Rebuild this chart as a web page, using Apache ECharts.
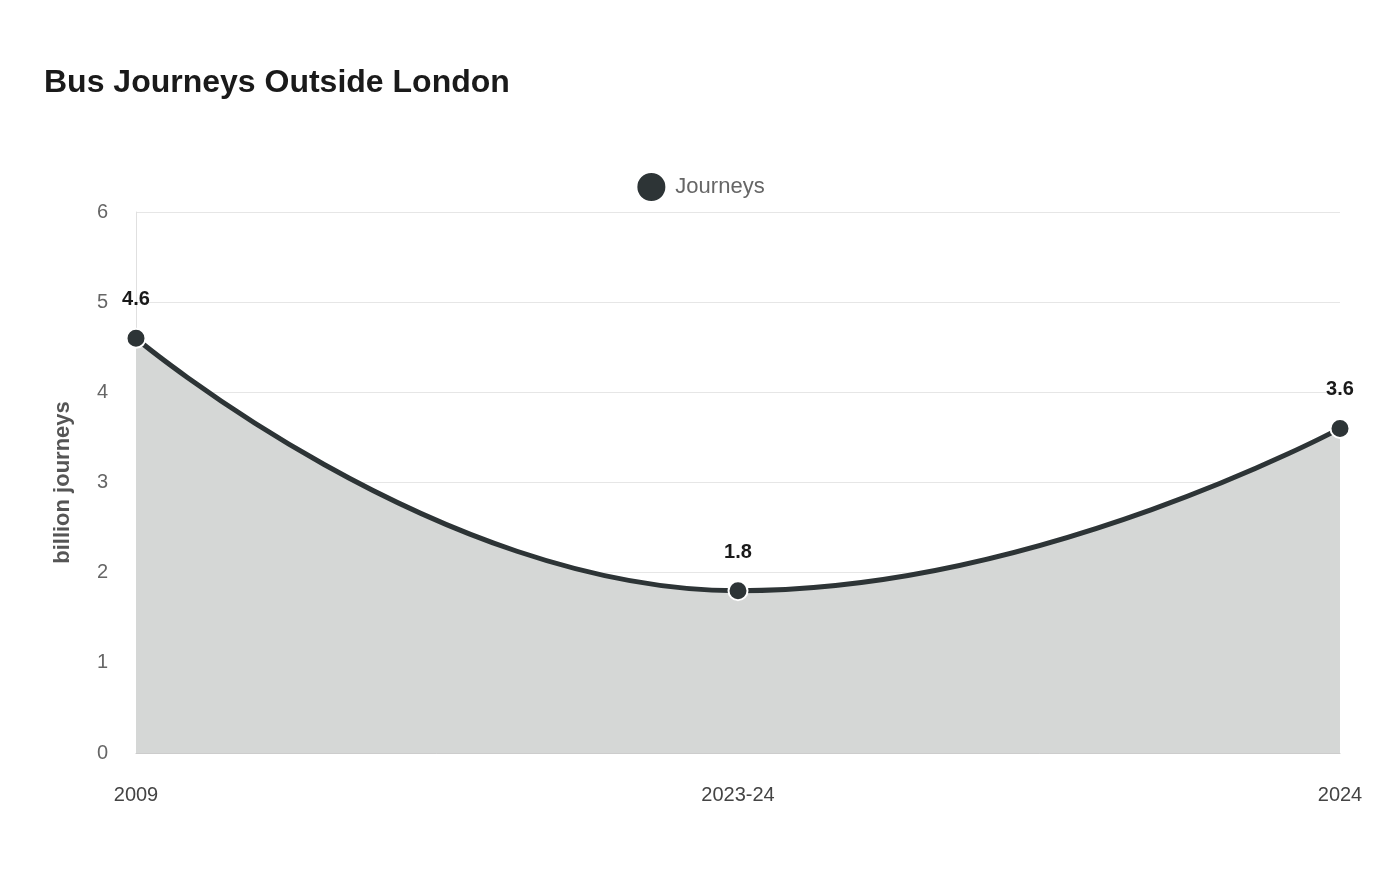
<!DOCTYPE html>
<html><head><meta charset="utf-8">
<script src="https://cdn.jsdelivr.net/npm/echarts@6/dist/echarts.min.js"></script>
<style>html,body{margin:0;padding:0;background:#fff}#c{width:1400px;height:880px}</style>
</head><body><div id="c"></div>
<script>
const categories = ["2009", "2023-24", "2024"];
const journeys = [4.6, 1.8, 3.6];
const yTicks = [0, 1, 2, 3, 4, 5, 6];

const chart = echarts.init(document.getElementById('c'));
chart.setOption({
  animation: false,
  textStyle: { fontFamily: 'Liberation Sans, Arial, sans-serif' },
  title: { text: 'Bus Journeys Outside London', left: 39, top: 62,
    textStyle: { fontSize: 32, fontWeight: 'bold', color: '#1a1a1a' } },
  legend: { top: 166, left: 'center', itemWidth: 30, itemHeight: 30, icon: 'circle',
    textStyle: { fontSize: 22, color: '#666', padding: [0, 0, 0, 4] }, data: ['Journeys'] },
  grid: { left: 136, right: 60, top: 212, bottom: 127 },
  xAxis: { type: 'category', data: categories, boundaryGap: false,
    axisLine: { lineStyle: { color: '#ccc' } }, axisTick: { show: false },
    axisLabel: { fontSize: 20, color: '#444', margin: 32 } },
  yAxis: { type: 'value', min: yTicks[0], max: yTicks[yTicks.length-1], interval: 1,
    name: 'billion journeys', nameLocation: 'middle', nameGap: 62,
    nameTextStyle: { fontSize: 22, fontWeight: 'bold', color: '#555' },
    axisLine: { show: true, lineStyle: { color: '#e0e0e0' } }, axisTick: { show: false },
    axisLabel: { fontSize: 20, color: '#666', margin: 28 },
    splitLine: { lineStyle: { color: '#e6e6e6' } } },
  series: [{
    name: 'Journeys', type: 'line', data: journeys, smooth: 0.5, smoothMonotone: 'x',
    symbol: 'circle', symbolSize: 19,
    itemStyle: { color: '#2d3436', borderColor: '#fff', borderWidth: 2 },
    lineStyle: { width: 5, color: '#2d3436' },
    areaStyle: { color: '#d5d7d6', opacity: 1 },
    label: { show: true, position: 'top', distance: 18, fontSize: 20, fontWeight: 'bold', color: '#1a1a1a' }
  }]
});
</script></body></html>
